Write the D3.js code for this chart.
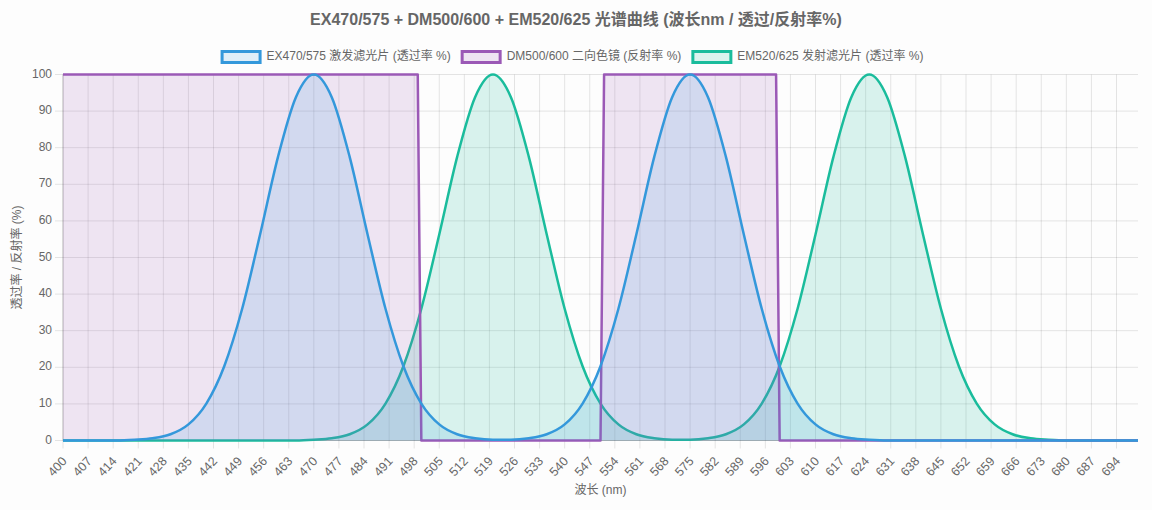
<!DOCTYPE html>
<html>
<head>
<meta charset="utf-8">
<script src="https://cdn.jsdelivr.net/npm/d3@7"></script>
<style>
  body { margin: 0; background: #fdfdfd; }
  svg { display: block; font-family: "Helvetica Neue", Helvetica, Arial, "Noto Sans CJK SC", sans-serif; }
</style>
</head>
<body>
<div id="chart"></div>
<script>
// ------ Data ------ //
const wavelengths = [400, 405, 410, 415, 420, 425, 430, 435, 440, 445, 450, 455, 460, 465, 470, 475, 480, 485, 490, 495,
  500, 505, 510, 515, 520, 525, 530, 535, 540, 545, 550, 555, 560, 565, 570, 575, 580, 585, 590, 595,
  600, 605, 610, 615, 620, 625, 630, 635, 640, 645, 650, 655, 660, 665, 670, 675, 680, 685, 690, 695, 700];

// EX470/575 excitation filter (transmission %)
const exValues = [0, 0, 0, 0, 0.2, 0.6, 1.7, 4.4, 10.1, 20.3, 36.0, 56.3, 77.5, 93.8, 100, 93.8, 77.5, 56.3, 36.0, 20.3,
  10.1, 4.4, 1.7, 0.6, 0.2, 0.2, 0.6, 1.7, 4.4, 10.1, 20.3, 36.0, 56.3, 77.5, 93.8, 100, 93.8, 77.5, 56.3, 36.0,
  20.3, 10.1, 4.4, 1.7, 0.6, 0.2, 0, 0, 0, 0, 0, 0, 0, 0, 0, 0, 0, 0, 0, 0, 0];

// EM520/625 emission filter (transmission %)
const emValues = [0, 0, 0, 0, 0, 0, 0, 0, 0, 0, 0, 0, 0, 0, 0.2, 0.6, 1.7, 4.4, 10.1, 20.3,
  36.0, 56.3, 77.5, 93.8, 100, 93.8, 77.5, 56.3, 36.0, 20.3, 10.1, 4.4, 1.7, 0.6, 0.2, 0.2, 0.6, 1.7, 4.4, 10.1,
  20.3, 36.0, 56.3, 77.5, 93.8, 100, 93.8, 77.5, 56.3, 36.0, 20.3, 10.1, 4.4, 1.7, 0.6, 0.2, 0, 0, 0, 0, 0];

// DM500/600 dichroic (reflection %), breakpoints
const dmWavelengths = [400, 499, 500, 550, 551, 599, 600, 700];
const dmValues = [100, 100, 0, 0, 100, 100, 0, 0];

const xTicks = d3.range(400, 695, 7);
const yTicks = d3.range(0, 101, 10);

const titleText = "EX470/575 + DM500/600 + EM520/625 光谱曲线 (波长nm / 透过/反射率%)";
const legendLabels = ["EX470/575 激发滤光片 (透过率 %)", "DM500/600 二向色镜 (反射率 %)", "EM520/625 发射滤光片 (透过率 %)"];
const colors = ["#3498db", "#9b59b6", "#1abc9c"];

// ------ Drawing area ------ //
const width = 1152;
const height = 510;
const margin = { top: 74.5, right: 14, bottom: 69.5, left: 63 };

const svg = d3.select("#chart")
  .append("svg")
    .attr("width", width)
    .attr("height", height);

const x = d3.scaleLinear()
  .domain([400, 700])
  .range([margin.left, width - margin.right]);
const y = d3.scaleLinear()
  .domain([0, 100])
  .range([height - margin.bottom, margin.top]);

const textColor = "#666";
const gridColor = "rgba(0,0,0,0.1)";

// Grid lines
svg.append("g")
  .selectAll("line")
  .data(yTicks)
  .join("line")
    .attr("x1", margin.left - 8)
    .attr("x2", width - margin.right)
    .attr("y1", d => y(d))
    .attr("y2", d => y(d))
    .attr("stroke", gridColor);
svg.append("g")
  .selectAll("line")
  .data(xTicks)
  .join("line")
    .attr("x1", d => x(d))
    .attr("x2", d => x(d))
    .attr("y1", margin.top)
    .attr("y2", height - margin.bottom + 8)
    .attr("stroke", gridColor);

// Axis borders
svg.append("line")
  .attr("x1", margin.left).attr("x2", margin.left)
  .attr("y1", margin.top).attr("y2", height - margin.bottom)
  .attr("stroke", "rgba(0,0,0,0.2)");
svg.append("line")
  .attr("x1", margin.left).attr("x2", width - margin.right)
  .attr("y1", height - margin.bottom).attr("y2", height - margin.bottom)
  .attr("stroke", "rgba(0,0,0,0.2)");

// Tick labels
svg.append("g")
  .selectAll("text")
  .data(yTicks)
  .join("text")
    .attr("x", margin.left - 11)
    .attr("y", d => y(d))
    .attr("text-anchor", "end")
    .attr("dominant-baseline", "middle")
    .attr("font-size", 12)
    .attr("fill", textColor)
    .text(d => d);

svg.append("g")
  .selectAll("text")
  .data(xTicks)
  .join("text")
    .attr("transform", d => `translate(${x(d) + 2}, ${height - margin.bottom + 19}) rotate(-47)`)
    .attr("text-anchor", "end")
    .attr("dominant-baseline", "middle")
    .attr("font-size", 12.5)
    .attr("fill", textColor)
    .text(d => d);

// Axis titles
svg.append("text")
  .attr("x", (margin.left + width - margin.right) / 2)
  .attr("y", 491)
  .attr("text-anchor", "middle")
  .attr("dominant-baseline", "middle")
  .attr("font-size", 12)
  .attr("fill", textColor)
  .text("波长 (nm)");
svg.append("text")
  .attr("transform", `translate(18, ${(margin.top + height - margin.bottom) / 2}) rotate(-90)`)
  .attr("text-anchor", "middle")
  .attr("dominant-baseline", "middle")
  .attr("font-size", 12)
  .attr("fill", textColor)
  .text("透过率 / 反射率 (%)");

// Chart title
svg.append("text")
  .attr("x", width / 2)
  .attr("y", 21)
  .attr("text-anchor", "middle")
  .attr("dominant-baseline", "middle")
  .attr("font-size", 16)
  .attr("font-weight", "bold")
  .attr("fill", textColor)
  .text(titleText);

// ------ Series ------ //
const smoothArea = d3.area()
  .x(d => x(d[0]))
  .y0(y(0))
  .y1(d => y(d[1]))
  .curve(d3.curveMonotoneX);
const smoothLine = d3.line()
  .x(d => x(d[0]))
  .y(d => y(d[1]))
  .curve(d3.curveMonotoneX);
const stepArea = d3.area()
  .x(d => x(d[0]))
  .y0(y(0))
  .y1(d => y(d[1]));
const stepLine = d3.line()
  .x(d => x(d[0]))
  .y(d => y(d[1]));

const exData = d3.zip(wavelengths, exValues);
const emData = d3.zip(wavelengths, emValues);
const dmData = d3.zip(dmWavelengths, dmValues);

// draw last dataset first so the first one ends on top
const series = [
  { data: emData, area: smoothArea, line: smoothLine, color: colors[2], alpha: 0.16 },
  { data: dmData, area: stepArea, line: stepLine, color: colors[1], alpha: 0.15 },
  { data: exData, area: smoothArea, line: smoothLine, color: colors[0], alpha: 0.15 }
];

const plot = svg.append("g");
series.forEach(s => {
  const c = d3.color(s.color);
  c.opacity = s.alpha;
  plot.append("path")
    .attr("d", s.area(s.data))
    .attr("fill", c.formatRgb());
  plot.append("path")
    .attr("d", s.line(s.data))
    .attr("fill", "none")
    .attr("stroke", s.color)
    .attr("stroke-width", 2.5)
    .attr("stroke-linejoin", "round");
});

// ------ Legend ------ //
const legend = svg.append("g");
const items = legend.selectAll("g")
  .data(legendLabels)
  .join("g");
items.append("text")
  .attr("x", 46)
  .attr("y", 57)
  .attr("dominant-baseline", "middle")
  .attr("font-size", 12)
  .attr("fill", textColor)
  .text(d => d);
const widths = [];
items.select("text").each(function() { widths.push(46 + this.getComputedTextLength()); });
const gap = 10;
const total = d3.sum(widths) + gap * (widths.length - 1);
let cursor = width / 2 - total / 2 - 4;
items.each(function(d, i) {
  d3.select(this).attr("transform", `translate(${cursor}, 0)`);
  cursor += widths[i] + gap;
});
items.insert("rect", "text")
  .attr("x", 1.5)
  .attr("y", 51.5)
  .attr("width", 38)
  .attr("height", 11)
  .attr("fill", (d, i) => { const c = d3.color(colors[i]); c.opacity = 0.15; return c.formatRgb(); })
  .attr("stroke", (d, i) => colors[i])
  .attr("stroke-width", 3);
</script>
</body>
</html>
